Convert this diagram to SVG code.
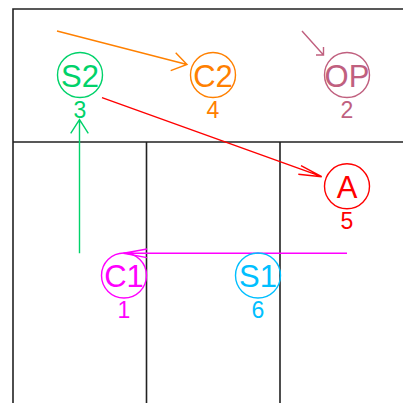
<svg xmlns="http://www.w3.org/2000/svg" width="403" height="403" viewBox="0 0 403 403">
<style>
.frame{fill:none;stroke:#222;stroke-width:1.6}
.nc{fill:none;stroke-width:1.4}
.lbl{font-family:"Liberation Sans",Arial,sans-serif;font-size:31px;text-anchor:middle}
.num{font-family:"Liberation Sans",Arial,sans-serif;font-size:23px;text-anchor:middle}
.edge{fill:none;stroke-width:1.4}
</style>
<rect width="403" height="403" fill="#fff"/>
<g id="frame">
<path class="frame" d="M13,403 V9 H403 M13,142 H403 M146.5,142 V403 M280,142 V403"/>
</g>
<g id="connectors">
<path class="edge" stroke="#ff8000" d="M57,31 L187,64.5 M175.7,52.7 L187,64.5 L170.7,70.7"/>
<path class="edge" stroke="#c0607f" d="M302,31 L323.5,55 M316,55 L323.5,55 L323.5,47"/>
<path class="edge" stroke="#ff0000" d="M102,97.7 L321.7,176.7 M301,165.7 L321.7,176.7 L298.3,174.3"/>
<path class="edge" stroke="#00d26a" d="M79.5,253.3 V119.5 M70.7,133.3 L79.5,119.5 L88.3,133.3"/>
<path class="edge" stroke="#ff00ff" d="M347,253.3 H123.5 M147,249 L123.5,253.3 L147,257.6"/>
</g>
<g id="S2">
<circle class="nc" cx="80" cy="75" r="22.5" stroke="#00d26a"/>
<text class="lbl" x="80" y="86.5" fill="#00d26a">S2</text>
<text class="num" x="80" y="117.5" fill="#00d26a">3</text>
</g>
<g id="C2">
<circle class="nc" cx="213" cy="75" r="22.5" stroke="#ff8000"/>
<text class="lbl" x="213" y="86.5" fill="#ff8000">C2</text>
<text class="num" x="213" y="117.5" fill="#ff8000">4</text>
</g>
<g id="OP">
<circle class="nc" cx="347" cy="75" r="22.5" stroke="#c0607f"/>
<text class="lbl" x="347" y="86.5" fill="#c0607f">OP</text>
<text class="num" x="347" y="117.5" fill="#c0607f">2</text>
</g>
<g id="A">
<circle class="nc" cx="347" cy="186.3" r="22.5" stroke="#ff0000"/>
<text class="lbl" x="347" y="197.8" fill="#ff0000">A</text>
<text class="num" x="347" y="228.5" fill="#ff0000">5</text>
</g>
<g id="C1">
<circle class="nc" cx="124" cy="275.5" r="22.5" stroke="#ff00ff"/>
<text class="lbl" x="124" y="287" fill="#ff00ff">C1</text>
<text class="num" x="124" y="317.5" fill="#ff00ff">1</text>
</g>
<g id="S1">
<circle class="nc" cx="258" cy="275.5" r="22.5" stroke="#00bfff"/>
<text class="lbl" x="258" y="287" fill="#00bfff">S1</text>
<text class="num" x="258" y="317.5" fill="#00bfff">6</text>
</g>
</svg>
